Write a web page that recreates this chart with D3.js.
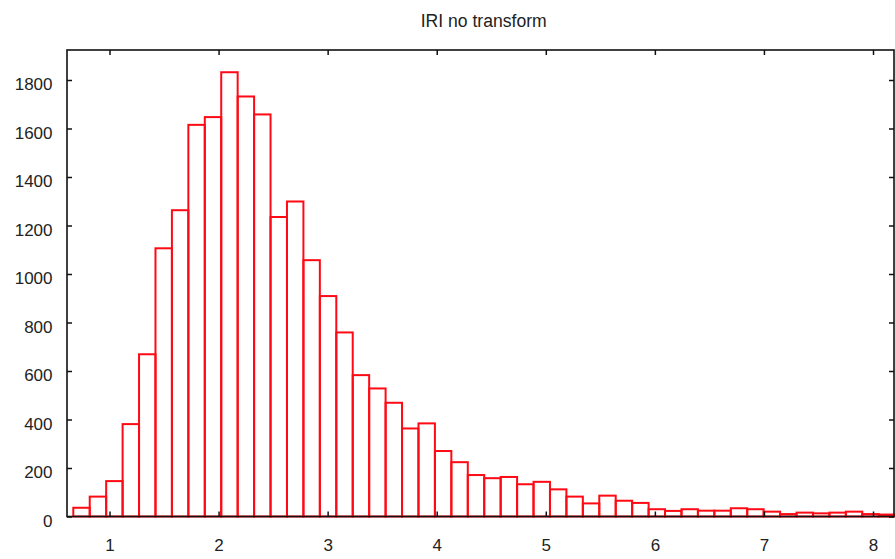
<!DOCTYPE html>
<html>
<head>
<meta charset="utf-8">
<script src="https://cdn.jsdelivr.net/npm/d3@7"></script>
<style>
  html, body { margin: 0; padding: 0; background: #fff; }
  svg { display: block; }
</style>
</head>
<body>
<svg id="chart" width="895" height="559"></svg>
<script>
// ---- Data ----
const title = "IRI no transform";
const binStart = 0.668;     // left edge of first bin (IRI units)
const binWidth = 0.1507;    // bin width (IRI units)
const counts = [
  36, 82, 146, 381, 669, 1106, 1263, 1615, 1647, 1832,
  1732, 1658, 1235, 1299, 1057, 909, 759, 583, 528, 469,
  363, 384, 270, 224, 171, 158, 163, 133, 143, 112,
  82, 54, 86, 65, 56, 30, 23, 30, 24, 24,
  34, 30, 20, 10, 16, 13, 16, 20, 10, 8
];
const xTicks = [1, 2, 3, 4, 5, 6, 7, 8];
const yTicks = [0, 200, 400, 600, 800, 1000, 1200, 1400, 1600, 1800];
const xDomain = [0.6103, 8.1925];
const yDomain = [0, 1923.7];

// ---- Layout ----
const M = { left: 67, right: 894, top: 50, bottom: 516.5 };
const svg = d3.select("#chart");
svg.append("rect").attr("width", 895).attr("height", 559).attr("fill", "#fff");

const x = d3.scaleLinear().domain(xDomain).range([M.left, M.right]);
const y = d3.scaleLinear().domain(yDomain).range([M.bottom, M.top]);

const bins = counts.map((c, i) => ({ x0: binStart + i * binWidth, x1: binStart + (i + 1) * binWidth, c }));

// bars
svg.append("g")
  .selectAll("rect")
  .data(bins)
  .join("rect")
  .attr("x", d => x(d.x0))
  .attr("y", d => y(d.c))
  .attr("width", d => x(d.x1) - x(d.x0))
  .attr("height", d => y(0) - y(d.c))
  .attr("fill", "none")
  .attr("stroke", "#ff0a14")
  .attr("stroke-width", 2);

// axes (ticks pointing inward)
const font = "'Liberation Sans', Arial, sans-serif";
const tickLen = 5;

const xb = svg.append("g").attr("transform", `translate(0,${M.bottom})`)
  .call(d3.axisBottom(x).tickValues(xTicks).tickSizeInner(-tickLen).tickSizeOuter(0).tickFormat(d3.format("d")));
const xt = svg.append("g").attr("transform", `translate(0,${M.top})`)
  .call(d3.axisTop(x).tickValues(xTicks).tickSizeInner(-tickLen).tickSizeOuter(0).tickFormat(""));
const yl = svg.append("g").attr("transform", `translate(${M.left},0)`)
  .call(d3.axisLeft(y).tickValues(yTicks).tickSizeInner(-tickLen).tickSizeOuter(0).tickPadding(14.5).tickFormat(d3.format("d")));
const yr = svg.append("g").attr("transform", `translate(${M.right},0)`)
  .call(d3.axisRight(y).tickValues(yTicks).tickSizeInner(-tickLen).tickSizeOuter(0).tickFormat(""));

[xb, xt, yl, yr].forEach(g => {
  g.select(".domain").remove();
  g.selectAll(".tick line").attr("stroke", "#111").attr("stroke-width", 1.5);
  g.selectAll(".tick text").attr("fill", "#222").style("font-family", font).style("font-size", "17px");
});
xb.selectAll(".tick text").attr("y", 34.5).attr("dy", 0);
yl.selectAll(".tick text").attr("dy", "0.58em");

// frame
svg.append("rect")
  .attr("x", M.left).attr("y", M.top)
  .attr("width", M.right - M.left).attr("height", M.bottom - M.top)
  .attr("fill", "none").attr("stroke", "#111").attr("stroke-width", 1.6);

// title
svg.append("text")
  .attr("x", 483.7).attr("y", 26.5)
  .attr("text-anchor", "middle")
  .attr("textLength", 126).attr("lengthAdjust", "spacingAndGlyphs")
  .style("font-family", font).style("font-size", "18px").attr("fill", "#222")
  .text(title);
</script>
</body>
</html>
